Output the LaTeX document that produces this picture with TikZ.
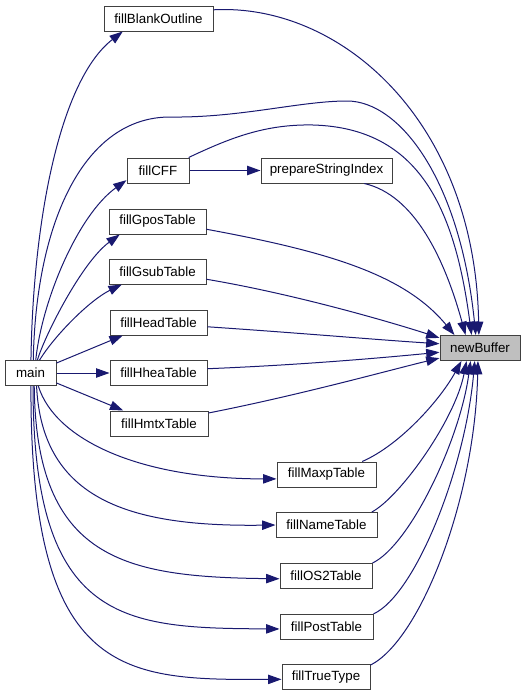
\documentclass[tikz,border=0pt]{standalone}
\usepackage{fontspec}
\setmainfont{Liberation Sans}
\usetikzlibrary{arrows.meta}
\definecolor{edgeblue}{HTML}{191970}
\definecolor{nodeborder}{HTML}{404040}
\definecolor{hlfill}{HTML}{BFBFBF}
\begin{document}
\begin{tikzpicture}[x=0.75pt,y=-0.75pt,
  box/.style={draw=nodeborder, fill=white, line width=0.75pt, minimum height=18.75pt,
    inner sep=0pt, font=\fontsize{10}{12}\selectfont},
  edge/.style={draw=edgeblue, line width=0.75pt, -{Triangle[length=10pt,width=7pt]}}]
\useasboundingbox (0,0) rectangle (525,696);

% nodes
\node[box, minimum width=81.75pt] (fbo) at (158.5,18.5) {fillBlankOutline};
\node[box, minimum width=46.5pt] (cff) at (158,170.5) {fillCFF};
\node[box, minimum width=98.25pt] (psi) at (326.5,170.5) {prepareStringIndex};
\node[box, minimum width=72.75pt] (gpos) at (157.5,221.5) {fillGposTable};
\node[box, minimum width=72.75pt] (gsub) at (157.5,271.5) {fillGsubTable};
\node[box, minimum width=72.75pt] (head) at (158.5,322.5) {fillHeadTable};
\node[box, minimum width=72.75pt] (hhea) at (158.5,373) {fillHheaTable};
\node[box, minimum width=73.5pt] (hmtx) at (159,423.5) {fillHmtxTable};
\node[box, minimum width=38.25pt] (main) at (30.5,373) {main};
\node[box, minimum width=60pt, fill=hlfill] (nb) at (480,348) {newBuffer};
\node[box, minimum width=74.25pt] (maxp) at (326.5,474.5) {fillMaxpTable};
\node[box, minimum width=75.75pt] (name) at (326.5,525) {fillNameTable};
\node[box, minimum width=69pt] (os2) at (326,575.5) {fillOS2Table};
\node[box, minimum width=69.75pt] (post) at (326.5,626.5) {fillPostTable};
\node[box, minimum width=66pt] (tt) at (326,677) {fillTrueType};

% main -> callees
\draw[edge] (main.88) .. controls (33,220) and (60,80) .. (fbo.200);
\draw[edge] (main.78) .. controls (36,220) and (85,117) .. (170,117)
  .. controls (240,118) and (300,101) .. (347,101)
  .. controls (400,101) and (460,180) .. (nb.108);
\draw[edge] (main.68) .. controls (42,300) and (78,215) .. (cff.197);
\draw[edge] (main.62) .. controls (45,335) and (82,262) .. (gpos.199);
\draw[edge] (main.55) .. controls (55,335) and (90,300) .. (gsub.200);
\draw[edge] (main.21) -- (head.200);
\draw[edge] (main.east) -- (hhea.west);
\draw[edge] (main.-21) -- (hmtx.160);
\draw[edge] (main.-59) .. controls (55,440) and (140,479) .. (maxp.185);
\draw[edge] (main.-65) .. controls (42,500) and (130,527) .. (name.west);
\draw[edge] (main.-74) .. controls (36,560) and (125,577) .. (os2.184);
\draw[edge] (main.-79) .. controls (33,625) and (125,628) .. (post.183);
\draw[edge] (main.-88) .. controls (30,680) and (125,680) .. (tt.183);

% fillCFF -> prepareStringIndex
\draw[edge] (cff.east) -- (psi.west);

% callers -> newBuffer
\draw[edge] (fbo.9) .. controls (340,3) and (475,120) .. (nb.95);
\draw[edge] (cff.23) .. controls (230,138) and (265,124) .. (313,125)
  .. controls (420,128) and (455,210) .. (nb.123);
\draw[edge] (psi.-19) .. controls (415,195) and (445,260) .. (nb.138);
\draw[edge] (gpos.-9) .. controls (330,252) and (405,275) .. (nb.153);
\draw[edge] (gsub.-9) .. controls (300,295) and (400,325) .. (nb.166);
\draw[edge] (head.-5) .. controls (300,333) and (380,340) .. (nb.174);
\draw[edge] (hhea.5) .. controls (300,365) and (380,358) .. (nb.186);
\draw[edge] (hmtx.12) .. controls (300,395) and (390,370) .. (nb.194);
\draw[edge] (maxp.20) .. controls (400,445) and (440,400) .. (nb.215);
\draw[edge] (name.16) .. controls (400,497) and (455,420) .. (nb.224);
\draw[edge] (os2.15) .. controls (410,545) and (460,440) .. (nb.234);
\draw[edge] (post.15) .. controls (415,595) and (465,470) .. (nb.248);
\draw[edge] (tt.15) .. controls (420,640) and (475,500) .. (nb.261);
\end{tikzpicture}
\end{document}
